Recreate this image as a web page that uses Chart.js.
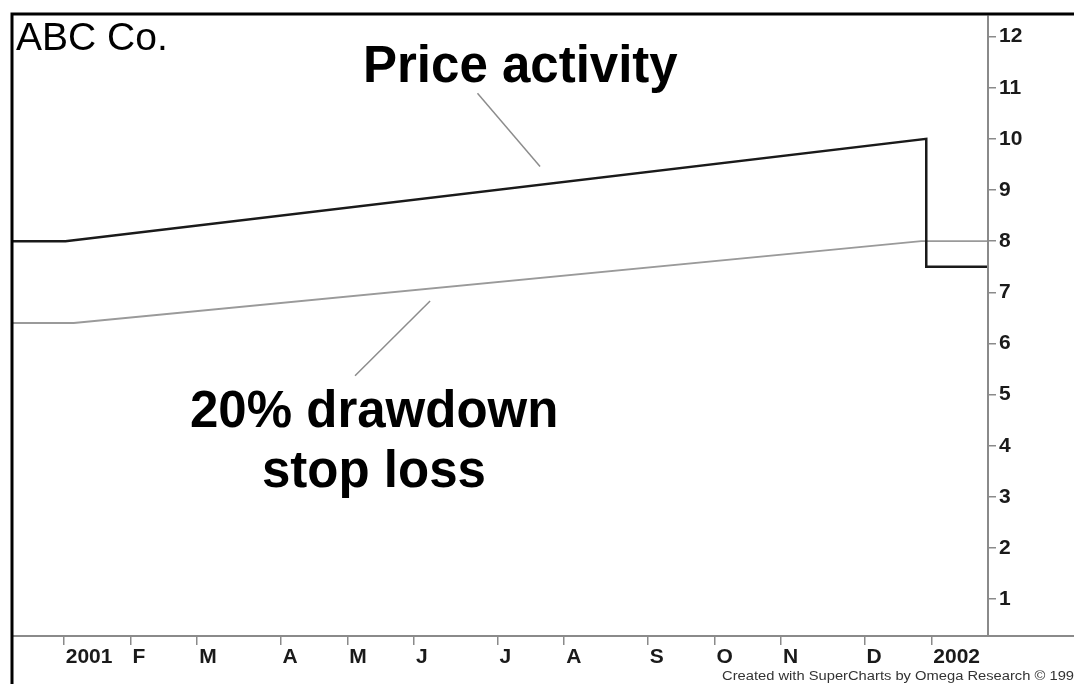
<!DOCTYPE html>
<html>
<head>
<meta charset="utf-8">
<title>ABC Co. - 20% drawdown stop loss</title>
<script src="https://cdn.jsdelivr.net/npm/chart.js@4.4.1/dist/chart.umd.min.js"></script>
<style>
  html, body { margin: 0; padding: 0; background: #fff; }
  #wrap { width: 1074px; height: 684px; position: relative; overflow: hidden; }
</style>
</head>
<body>
<div id="wrap"><canvas id="stopChart" width="1074" height="684"></canvas></div>
<script>
// Weekly chart, x = weeks from the first bar of 2001

const monthTicks = [0, 4, 8, 13, 17, 21, 26, 30, 35, 39, 43, 48, 52];
const monthLabels = ["2001", "F", "M", "A", "M", "J", "J", "A", "S", "O", "N", "D", "2002"];
const priceTicks = [1, 2, 3, 4, 5, 6, 7, 8, 9, 10, 11, 12];

const priceWeeks = [-3.1, 0.1, 51.7, 51.7, 55.4];
const priceValues = [8, 8, 10, 7.5, 7.5];

const stopWeeks = [-3.1, 0.6, 51.4, 55.4];
const stopValues = [6.4, 6.4, 8, 8];

// annotation pointers, in chart units (week, price)
const pricePointer = [[24.8, 10.89], [28.55, 9.46]];
const stopPointer = [[17.46, 5.37], [21.96, 6.83]];

function toPoints(xs, ys) {
  return xs.map((x, i) => ({ x, y: ys[i] }));
}

const framePlugin = {
  id: "frame",
  afterDraw(chart) {
    const ctx = chart.ctx;
    const area = chart.chartArea;
    const xs = chart.scales.x;
    const ys = chart.scales.y;
    ctx.save();

    // axis lines
    ctx.strokeStyle = "#8a8a8a";
    ctx.lineWidth = 2;
    ctx.beginPath();
    ctx.moveTo(area.left, area.bottom);
    ctx.lineTo(chart.width, area.bottom);
    ctx.moveTo(area.right, area.top);
    ctx.lineTo(area.right, area.bottom);
    ctx.stroke();

    // outer black frame (left + top)
    ctx.strokeStyle = "#000";
    ctx.lineWidth = 3;
    ctx.beginPath();
    ctx.moveTo(12, chart.height);
    ctx.lineTo(12, 14);
    ctx.lineTo(chart.width, 14);
    ctx.stroke();

    // pointer lines
    ctx.strokeStyle = "#8c8c8c";
    ctx.lineWidth = 1.5;
    [pricePointer, stopPointer].forEach(p => {
      ctx.beginPath();
      ctx.moveTo(xs.getPixelForValue(p[0][0]), ys.getPixelForValue(p[0][1]));
      ctx.lineTo(xs.getPixelForValue(p[1][0]), ys.getPixelForValue(p[1][1]));
      ctx.stroke();
    });

    // texts
    ctx.fillStyle = "#000";
    ctx.textBaseline = "alphabetic";
    ctx.textAlign = "left";
    ctx.font = "39px 'Liberation Sans', Arial, sans-serif";
    ctx.fillText("ABC Co.", 16, 50);

    ctx.font = "bold 51px 'Liberation Sans', Arial, sans-serif";
    ctx.fillText("Price activity", 363, 82);
    ctx.fillText("20% drawdown", 190, 427);
    ctx.fillText("stop loss", 262, 487);

    // credit line, stretched like the original and cut by the edge
    ctx.font = "12px 'Liberation Sans', Arial, sans-serif";
    ctx.fillStyle = "#333";
    const credit = "Created with SuperCharts by Omega Research \u00A9 1997";
    const w = ctx.measureText("Created with SuperCharts by Omega Research \u00A9 199").width;
    ctx.translate(722, 680);
    ctx.scale(352 / w, 1);
    ctx.fillText(credit, 0, 0);
    ctx.restore();
  }
};

const ctx = document.getElementById("stopChart");

new Chart(ctx, {
  type: "line",
  data: {
    datasets: [
      {
        label: "Price activity",
        data: toPoints(priceWeeks, priceValues),
        borderColor: "#1a1a1a",
        borderWidth: 2.5,
        pointRadius: 0,
        tension: 0,
        fill: false
      },
      {
        label: "20% drawdown stop loss",
        data: toPoints(stopWeeks, stopValues),
        borderColor: "#9a9a9a",
        borderWidth: 1.8,
        pointRadius: 0,
        tension: 0,
        fill: false
      }
    ]
  },
  options: {
    responsive: false,
    animation: false,
    devicePixelRatio: 1,
    layout: { padding: { left: 12, top: 14, right: 0, bottom: 0 } },
    plugins: {
      legend: { display: false },
      tooltip: { enabled: false }
    },
    scales: {
      x: {
        type: "linear",
        min: -3.1,
        max: 55.4,
        afterBuildTicks: scale => {
          scale.ticks = monthTicks.map(v => ({ value: v }));
        },
        afterFit: scale => { scale.height = 48; },
        border: { display: false },
        grid: { drawOnChartArea: false, tickLength: 9, color: "#8a8a8a", lineWidth: 1.5 },
        ticks: {
          autoSkip: false,
          maxRotation: 0,
          align: "start",
          labelOffset: 2,
          padding: 0,
          color: "#1a1a1a",
          font: { family: "'Liberation Sans', Arial, sans-serif", size: 21, weight: "bold" },
          callback: value => monthLabels[monthTicks.indexOf(value)]
        }
      },
      y: {
        position: "right",
        min: 0.28,
        max: 12.41,
        afterBuildTicks: scale => {
          scale.ticks = priceTicks.map(v => ({ value: v }));
        },
        afterFit: scale => { scale.width = 86; },
        border: { display: false },
        grid: { drawOnChartArea: false, tickLength: 8, color: "#8a8a8a", lineWidth: 1.5 },
        ticks: {
          padding: 3,
          color: "#1a1a1a",
          font: { family: "'Liberation Sans', Arial, sans-serif", size: 21, weight: "bold" },
          callback: value => String(value)
        }
      }
    }
  },
  plugins: [framePlugin]
});
</script>
</body>
</html>
